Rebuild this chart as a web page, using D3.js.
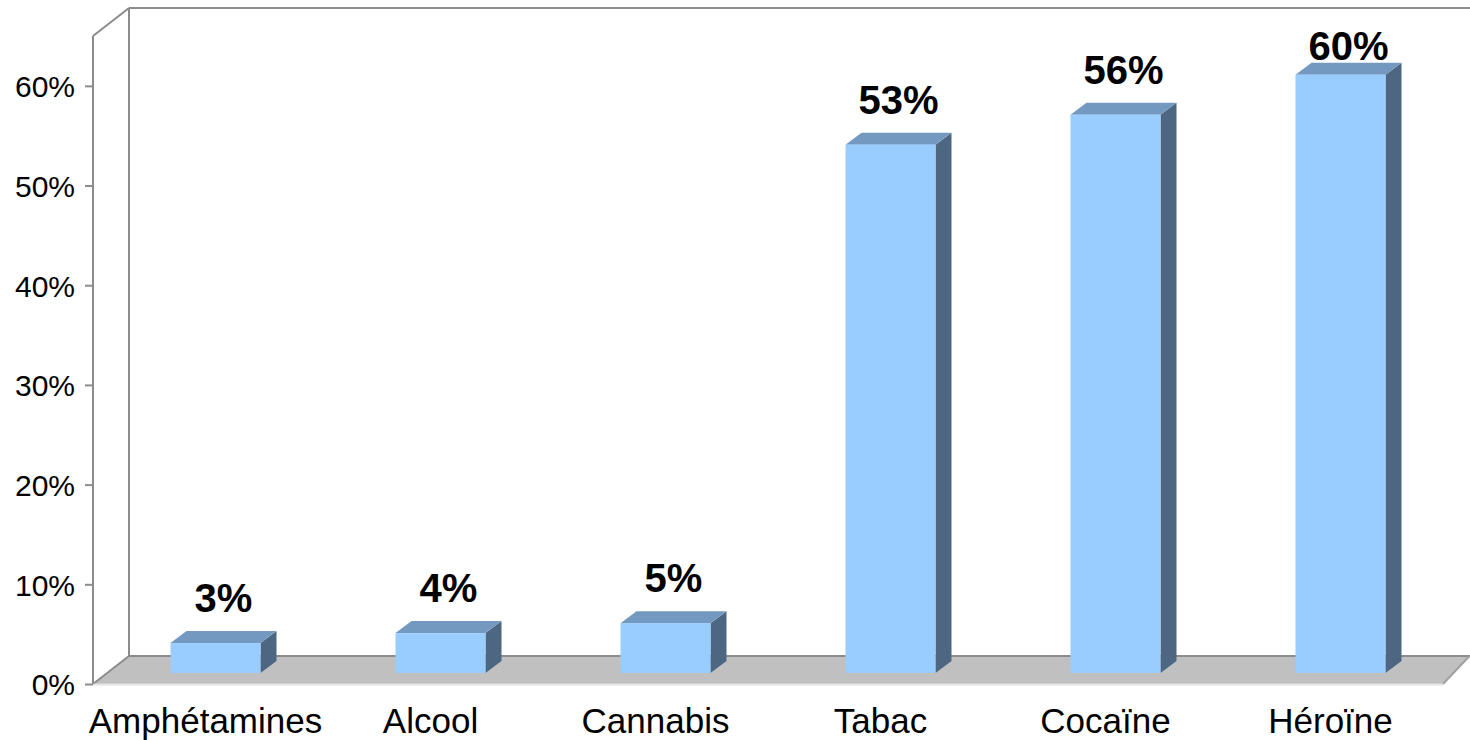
<!DOCTYPE html>
<html>
<head>
<meta charset="utf-8">
<script src="https://cdn.jsdelivr.net/npm/d3@7"></script>
<style>
  html, body { margin: 0; padding: 0; background: #fff; }
  svg { display: block; }
</style>
</head>
<body>
<svg id="chart" width="1470" height="740"></svg>
<script>
const categories = ["Amphétamines", "Alcool", "Cannabis", "Tabac", "Cocaïne", "Héroïne"];
const values = [0.03, 0.04, 0.05, 0.53, 0.56, 0.60];
const valueLabels = ["3%", "4%", "5%", "53%", "56%", "60%"];
const yTicks = [0, 0.1, 0.2, 0.3, 0.4, 0.5, 0.6];
const yTickLabels = ["0%", "10%", "20%", "30%", "40%", "50%", "60%"];

const W = 1470, H = 740;
const svg = d3.select("#chart");

// geometry
const front = { left: 93, right: 1443, bottom: 684, top: 36 };
const wallDepth = { dx: 36, dy: -28 };
const barPlane = { dx: 10, dy: -11 };
const barDepth = { dx: 16, dy: -12 };

const y = d3.scaleLinear().domain([0, 0.65]).range([front.bottom, front.top]);
const x = d3.scaleBand().domain(categories).range([front.left, front.right]).paddingInner(0.6).paddingOuter(0.3);
const band = d3.scaleBand().domain(categories).range([front.left, front.right]);

const wallColor = "#8c8c8c";

// floor
const floorPts = [
  [front.left, front.bottom],
  [front.left + wallDepth.dx, front.bottom + wallDepth.dy],
  [W, front.bottom + wallDepth.dy],
  [front.right, front.bottom]
];
svg.append("polygon")
  .attr("points", floorPts.map(p => p.join(",")).join(" "))
  .attr("fill", "#c0c0c0");

// back wall lines
const g = svg.append("g").attr("fill", "none").attr("stroke", wallColor).attr("stroke-width", 2);
const bx = front.left + wallDepth.dx;
const by0 = front.bottom + wallDepth.dy;
const by1 = y(0.65) + wallDepth.dy;
g.append("line").attr("x1", bx).attr("y1", by0).attr("x2", bx).attr("y2", by1);
g.append("line").attr("x1", bx).attr("y1", by1).attr("x2", W).attr("y2", by1);
g.append("line").attr("x1", bx).attr("y1", by0).attr("x2", W).attr("y2", by0);
// side wall
g.append("line").attr("x1", front.left).attr("y1", y(0.65)).attr("x2", bx).attr("y2", by1);
g.append("line").attr("x1", front.left).attr("y1", front.bottom).attr("x2", bx).attr("y2", by0);
g.append("line").attr("x1", W - 0.5 - 0).attr("y1", by0).attr("x2", front.right).attr("y2", front.bottom).attr("stroke", "#a0a0a0");

// floor front edge / x axis
const xAxis = d3.axisBottom(band).tickSize(0).tickFormat("");
const xg = svg.append("g").attr("transform", `translate(0,${front.bottom})`).call(xAxis);
xg.select(".domain").attr("stroke", "#e4e4e4").attr("stroke-width", 2);

// y axis
const yAxis = d3.axisLeft(y).tickValues(yTicks).tickSize(8).tickPadding(10)
  .tickFormat((d, i) => yTickLabels[i]);
const yg = svg.append("g").attr("transform", `translate(${front.left},0)`).call(yAxis);
yg.select(".domain").attr("stroke", wallColor).attr("stroke-width", 2).attr("d", `M0,${front.top}V${front.bottom}`);
yg.selectAll(".tick line").attr("stroke", wallColor).attr("stroke-width", 2);
yg.selectAll(".tick text")
  .attr("font-family", "'Liberation Sans', Arial, sans-serif")
  .attr("font-size", 30).attr("fill", "#000").attr("dy", "0.36em");

// bars
const bars = svg.append("g");
categories.forEach((c, i) => {
  const v = values[i];
  const xL = x(c) + barPlane.dx + (band.bandwidth() - x.bandwidth()) * 0 ;
  const xR = xL + x.bandwidth();
  const yT = y(v) + barPlane.dy;
  const yB = y(0) + barPlane.dy;
  const dx = barDepth.dx, dy = barDepth.dy;
  // side
  bars.append("polygon")
    .attr("points", [[xR, yT], [xR + dx, yT + dy], [xR + dx, yB + dy], [xR, yB]].map(p => p.join(",")).join(" "))
    .attr("fill", "#4d6782");
  // top
  bars.append("polygon")
    .attr("points", [[xL, yT], [xL + dx, yT + dy], [xR + dx, yT + dy], [xR, yT]].map(p => p.join(",")).join(" "))
    .attr("fill", "#7399c1");
  // front
  bars.append("rect")
    .attr("x", xL).attr("y", yT).attr("width", xR - xL).attr("height", yB - yT)
    .attr("fill", "#99ccff");
  // value label
  bars.append("text")
    .attr("x", (xL + xR + dx) / 2)
    .attr("y", Math.max(yT - 31, 60))
    .attr("text-anchor", "middle")
    .attr("font-family", "'Liberation Sans', Arial, sans-serif")
    .attr("font-weight", "bold")
    .attr("font-size", 40)
    .attr("fill", "#000")
    .text(valueLabels[i]);
});

// category labels
svg.append("g").selectAll("text").data(categories).join("text")
  .attr("x", d => band(d) + band.bandwidth() / 2)
  .attr("y", 733)
  .attr("text-anchor", "middle")
  .attr("font-family", "'Liberation Sans', Arial, sans-serif")
  .attr("font-size", 35)
  .attr("fill", "#000")
  .text(d => d);
</script>
</body>
</html>
